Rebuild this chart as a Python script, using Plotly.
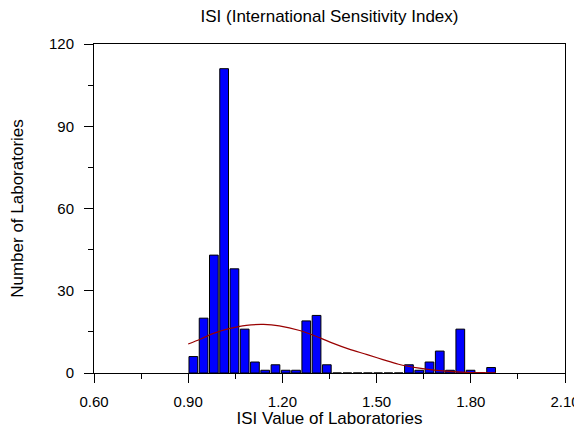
import plotly.graph_objects as go

# ---- data ----
bin_start = 0.90
bin_width = 0.0327
counts = [6, 20, 43, 111, 38, 16, 4, 1, 3, 1,
          1, 19, 21, 3, 0, 0, 0, 0, 0, 0,
          0, 3, 1, 4, 8, 1, 16, 1, 0, 2]

curve_x = [0.90, 0.94, 0.97, 1.00, 1.03, 1.085, 1.14, 1.19, 1.255, 1.32,
           1.36, 1.41, 1.47, 1.52, 1.57, 1.63, 1.70, 1.77, 1.83, 1.88]
curve_y = [10.6, 12.4, 14.0, 15.2, 16.2, 17.4, 17.7, 17.2, 15.5, 12.8,
           10.9, 8.8, 6.7, 4.9, 3.2, 1.9, 0.9, 0.35, 0.15, 0.08]

x_ticks = [0.60, 0.90, 1.20, 1.50, 1.80, 2.10]
x_tick_labels = ["0.60", "0.90", "1.20", "1.50", "1.80", "2.10"]
y_ticks = [0, 30, 60, 90, 120]

bin_centers = [bin_start + (i + 0.5) * bin_width for i in range(len(counts))]

FONT = "Liberation Sans, Arial, sans-serif"

fig = go.Figure()
fig.add_trace(go.Bar(
    x=bin_centers, y=counts,
    marker=dict(color="#0000FF", line=dict(color="#000000", width=1)),
    showlegend=False,
))
fig.add_trace(go.Scatter(
    x=curve_x, y=curve_y, mode="lines",
    line=dict(color="#990000", width=1.2, shape="spline"),
    showlegend=False,
))

# the page body adds an 8px margin on every side; keep the figure small
# enough that the 582x444 window needs no scrollbar
W, H = 574, 420
fig.update_layout(
    width=W, height=H,
    margin=dict(l=86, r=17, t=36, b=55),
    paper_bgcolor="white", plot_bgcolor="white",
    bargap=0.15,
    font=dict(family=FONT, color="black", size=15),
    title=dict(text="ISI (International Sensitivity Index)",
               x=0.5, xref="paper", xanchor="center",
               y=1 - 8 / H, yref="container", yanchor="middle",
               font=dict(size=17, family=FONT, color="black")),
)
fig.update_xaxes(
    range=[0.60, 2.10], tickmode="array", tickvals=x_ticks, ticktext=x_tick_labels,
    ticks="outside", ticklen=9, tickwidth=1, tickcolor="black",
    minor=dict(dtick=0.15, tick0=0.60, ticks="outside", ticklen=5, tickcolor="black"),
    showline=True, linecolor="black", linewidth=1, mirror=True,
    showgrid=False, zeroline=False, automargin=False,
    tickfont=dict(size=15, family=FONT), ticklabelstandoff=6,
    title=dict(text="ISI Value of Laboratories", font=dict(size=17, family=FONT), standoff=4),
)
fig.update_yaxes(
    range=[0, 120], tickmode="array", tickvals=y_ticks,
    ticks="outside", ticklen=9, tickwidth=1, tickcolor="black",
    minor=dict(dtick=15, tick0=0, ticks="outside", ticklen=5, tickcolor="black"),
    showline=True, linecolor="black", linewidth=1, mirror=True,
    showgrid=False, zeroline=False, automargin=False,
    tickfont=dict(size=15, family=FONT), ticklabelstandoff=7,
    title=dict(text="Number of Laboratories", font=dict(size=17, family=FONT), standoff=22),
)

fig.write_html("out.html")
